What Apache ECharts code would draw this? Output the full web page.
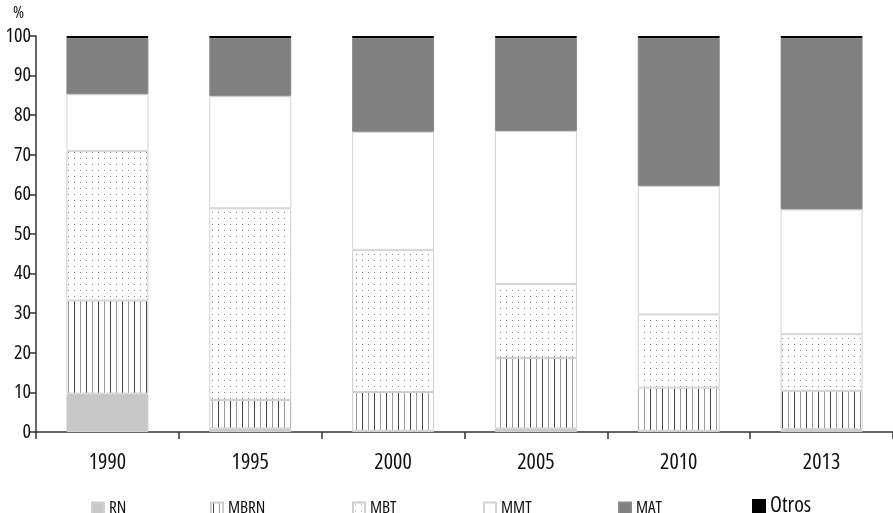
<!DOCTYPE html>
<html><head><meta charset="utf-8">
<script src="https://cdn.jsdelivr.net/npm/echarts@6/dist/echarts.min.js"></script>
<style>html,body{margin:0;padding:0;background:#fff}#c{width:893px;height:513px}</style>
</head><body><div id="c"></div>
<script>
(function(){
  var d=Object.getOwnPropertyDescriptor(CanvasRenderingContext2D.prototype,'font');
  if(d&&d.set&&('fontStretch' in CanvasRenderingContext2D.prototype)){
    Object.defineProperty(CanvasRenderingContext2D.prototype,'font',{configurable:true,
      get:d.get,set:function(v){d.set.call(this,v);try{this.fontStretch='condensed';}catch(e){}}});
  }
})();
var categories = ['1990','1995','2000','2005','2010','2013'];
var RN    = [9.7, 0.9, 0.3, 0.9, 0.3, 0.7];
var MBRN  = [23.5, 7.2, 9.8, 17.8, 10.9, 9.7];
var MBT   = [37.8, 48.4, 35.9, 18.7, 18.5, 14.3];
var MMT   = [14.3, 28.3, 29.8, 38.6, 32.4, 31.5];
var MAT   = [14.2, 14.7, 23.7, 23.5, 37.4, 43.3];
var Otros = [0.5, 0.5, 0.5, 0.5, 0.5, 0.5];
var legendNames = ['RN','MBRN','MBT','MMT','MAT','Otros'];

function makeLines(){
  var c=document.createElement('canvas');c.width=12;c.height=12;
  var g=c.getContext('2d');g.fillStyle='#fff';g.fillRect(0,0,12,12);
  g.fillStyle='#444';g.fillRect(2,0,1,12);
  g.fillStyle='#9a9a9a';g.fillRect(8,0,1,12);
  return c;
}
function makeDots(){
  var c=document.createElement('canvas');c.width=6;c.height=6;
  var g=c.getContext('2d');g.fillStyle='#fff';g.fillRect(0,0,6,6);
  g.fillStyle='#888';g.fillRect(2,2,1,1);
  return c;
}
var FONT = '"Open Sans","DejaVu Sans",sans-serif';
var chart = echarts.init(document.getElementById('c'));
function ser(name,data,color,border){
  return {name:name,type:'bar',stack:'s',data:data,barWidth:82,
    itemStyle:{color:color,borderColor:border,borderWidth:1},
    emphasis:{disabled:true}};
}
var series = [
  ser('RN',RN,'#c8c8c8','#d0d0d0'),
  ser('MBRN',MBRN,{image:makeLines(),repeat:'repeat'},'#cfcfcf'),
  ser('MBT',MBT,{image:makeDots(),repeat:'repeat'},'#cfcfcf'),
  ser('MMT',MMT,'#ffffff','#d4d4d4'),
  ser('MAT',MAT,'#808080','#8a8a8a'),
  ser('Otros',Otros,'#000000','#000000')
];
var lefts=[86,205,347,478,613,747];
var legends = legendNames.map(function(n,i){
  return {data:[n],left:lefts[i],top:n==='Otros'?490:495,itemWidth:12,itemHeight:12,itemGap:11,
    icon:'rect',selectedMode:false,
    textStyle:{fontFamily:FONT,fontSize:n==='Otros'?22:17,color:'#111'}};
});
chart.setOption({
  animation:false,
  grid:{left:36,right:0,top:36,bottom:81,outerBoundsMode:'none',containLabel:false},
  legend:legends,
  xAxis:{type:'category',data:categories,
    axisLine:{lineStyle:{color:'#333',width:1.5}},
    axisTick:{show:true,length:7,lineStyle:{color:'#333',width:1.5}},
    axisLabel:{fontFamily:FONT,fontSize:22,color:'#111',margin:20}},
  yAxis:{type:'value',min:0,max:100,interval:10,name:'%',
    nameLocation:'end',nameGap:14,
    nameTextStyle:{fontFamily:FONT,fontSize:17,color:'#111',align:'right',padding:[0,12,0,0]},
    splitLine:{show:false},
    axisLine:{show:true,lineStyle:{color:'#333',width:1.5}},
    axisTick:{show:true,length:7,lineStyle:{color:'#333',width:1.5}},
    axisLabel:{fontFamily:FONT,fontSize:20,color:'#111',margin:5}},
  series:series
});
</script></body></html>
